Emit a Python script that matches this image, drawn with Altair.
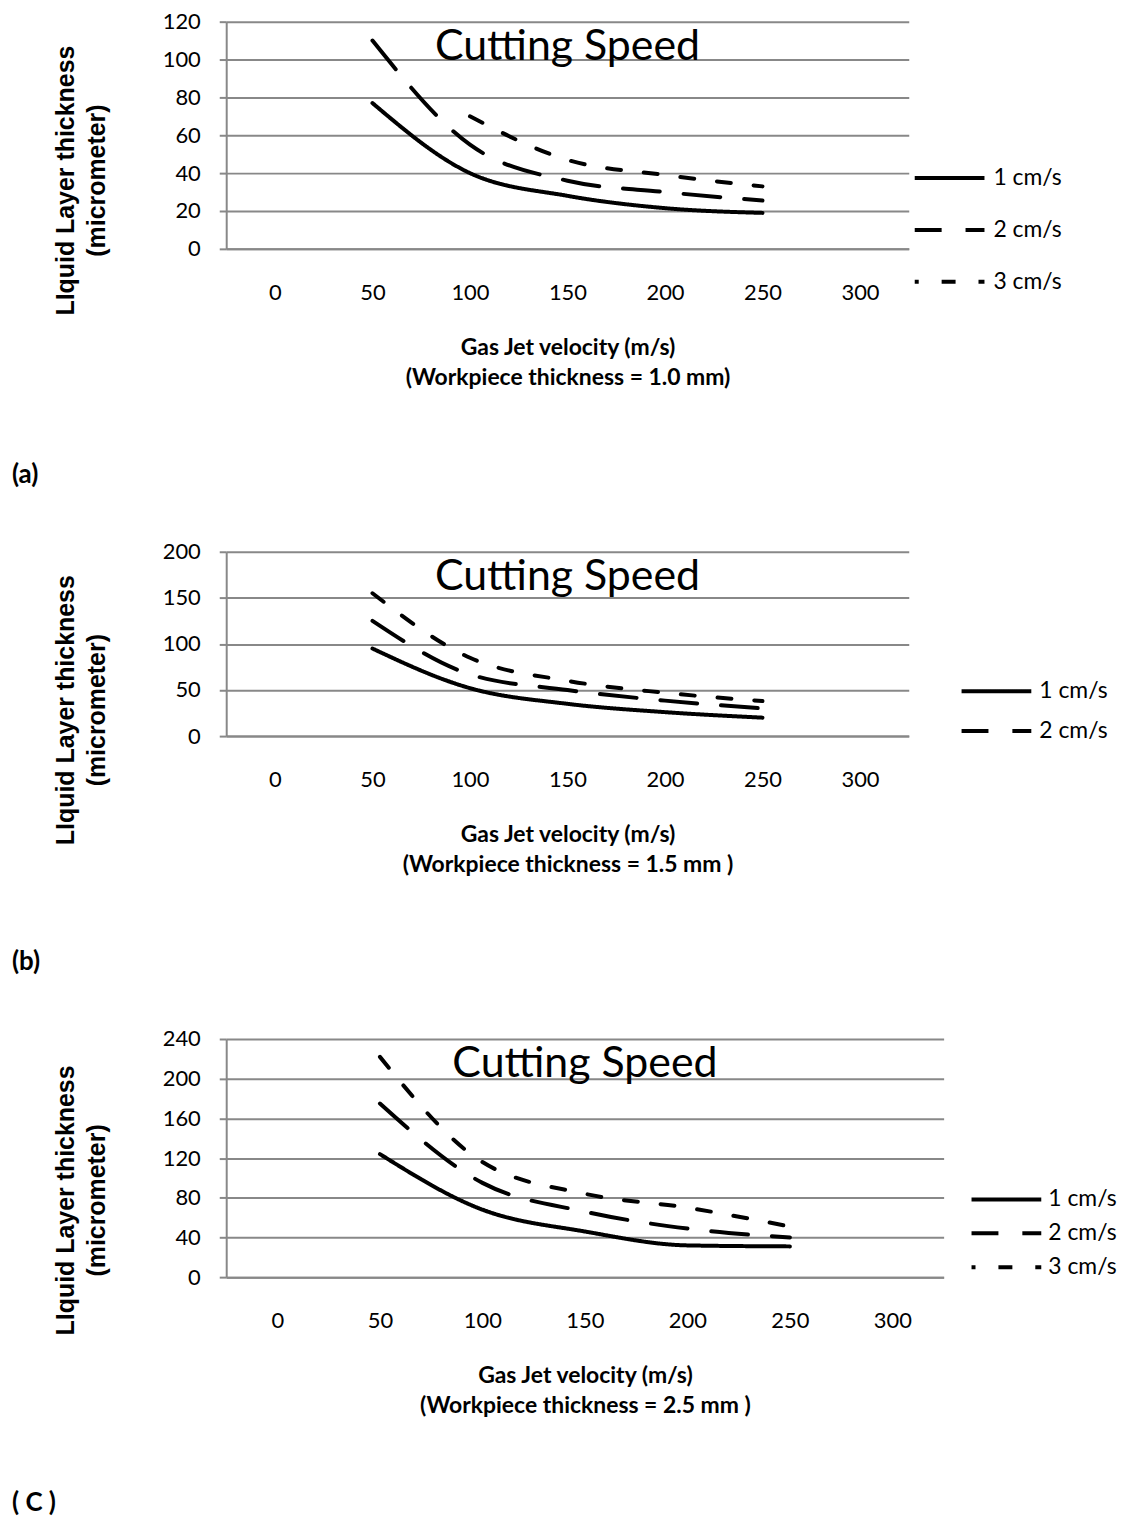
import altair as alt
import pandas as pd

# ---------------- data ----------------
velocity = [50, 100, 150, 200, 250]
speeds = ["1 cm/s", "2 cm/s", "3 cm/s"]
x_ticks = [0, 50, 100, 150, 200, 250, 300]

# (a) workpiece thickness 1.0 mm
a_1cm = [77, 40, 28, 21.5, 19]
a_2cm = [110, 55, 36, 30, 25.5]
a_3cm = [None, 70, 47, 39, 33]

# (b) workpiece thickness 1.5 mm
b_1cm = [95, 52, 35, 26, 20]
b_2cm = [125, 67, 50, 38.5, 30]
b_3cm = [155, 85, 60, 47, 38]

# (c) workpiece thickness 2.5 mm
c_1cm = [124, 68, 46, 32, 31]
c_2cm = [175, 95, 66, 49, 40]
c_3cm = [222, 116, 84, 70, 51]

GRAY = "#888888"
DASHES = [[1, 0], [37, 24], [14, 23]]


def make_df(s1, s2, s3):
    rows = []
    for name, vals in zip(speeds, [s1, s2, s3]):
        for v, t in zip(velocity, vals):
            if t is not None:
                rows.append({"velocity": v, "thickness": t, "speed": name})
    return pd.DataFrame(rows)


def panel(df, ymax, ystep, width, height, thickness_label, tag,
          legend_vals, legend_x, legend_y, row_h, label_off, ytitle_shift):
    lines = alt.Chart(df).mark_line(
        interpolate="monotone", strokeWidth=4, color="black",
        strokeCap="round", strokeJoin="round"
    ).encode(
        x=alt.X("velocity:Q",
                scale=alt.Scale(domain=[-25, 325], nice=False, zero=False),
                axis=alt.Axis(values=x_ticks, grid=False, ticks=False,
                              domainColor=GRAY, domainWidth=2,
                              labelFont="Lato", labelFontSize=22, labelColor="black",
                              labelPadding=34,
                              title=["Gas Jet velocity (m/s)", thickness_label],
                              titleFont="Lato", titleFontSize=23, titleFontWeight="bold",
                              titleColor="black", titlePadding=33, titleLineHeight=30)),
        y=alt.Y("thickness:Q",
                scale=alt.Scale(domain=[0, ymax], nice=False),
                axis=alt.Axis(values=list(range(0, ymax + 1, ystep)), grid=True,
                              gridColor=GRAY, gridWidth=2,
                              domainColor=GRAY, domainWidth=2,
                              tickColor=GRAY, tickWidth=2, tickSize=7,
                              labelFont="Lato", labelFontSize=22, labelColor="black",
                              labelPadding=19,
                              title=["LIquid Layer  thickness", "(micrometer)"],
                              titleFont="Liberation Sans", titleFontSize=25,
                              titleFontWeight="bold", titleColor="black",
                              titleAngle=270, titleX=-161,
                              titleY=height / 2 + ytitle_shift,
                              titleAlign="center", titleBaseline="middle",
                              titleLineHeight=31)),
        strokeDash=alt.StrokeDash(
            "speed:N",
            scale=alt.Scale(domain=speeds, range=DASHES),
            legend=alt.Legend(title=None, values=legend_vals, orient="none",
                              legendX=legend_x, legendY=legend_y,
                              symbolType="stroke", symbolSize=4900,
                              symbolStrokeWidth=4, symbolStrokeColor="black",
                              symbolDashOffset=10,
                              clipHeight=row_h, rowPadding=0,
                              labelFont="Lato", labelFontSize=23, labelColor="black",
                              labelOffset=label_off, labelLimit=300)),
    )
    heading = alt.Chart(pd.DataFrame({"t": ["Cutting Speed"]})).mark_text(
        align="center", baseline="alphabetic", font="Lato", fontSize=43,
        color="black"
    ).encode(x=alt.value(width / 2), y=alt.value(38), text="t:N")

    tag_text = alt.Chart(pd.DataFrame({"tag": [tag]})).mark_text(
        align="left", baseline="middle", font="Lato", fontSize=26,
        fontWeight="bold", color="black"
    ).encode(x=alt.value(-215), y=alt.value(height + 227), text="tag:N")

    return alt.layer(lines, heading, tag_text).properties(width=width, height=height)


pa = panel(make_df(a_1cm, a_2cm, a_3cm), 120, 20, 685, 228,
           "(Workpiece thickness  = 1.0 mm)", "(a)",
           speeds, 689, 131, 52, 7, 45)
pb = panel(make_df(b_1cm, b_2cm, b_3cm), 200, 50, 685, 185,
           "(Workpiece thickness  = 1.5 mm )", "(b)",
           speeds[:2], 736, 120, 40, 6, 66)
pc = panel(make_df(c_1cm, c_2cm, c_3cm), 240, 40, 720, 239,
           "(Workpiece thickness  = 2.5 mm )", "( C )",
           speeds, 746, 144, 34, 5, 42)

chart = alt.vconcat(pa, pb, pc, spacing=53).resolve_scale(
    strokeDash="independent"
).resolve_legend(
    strokeDash="independent"
).properties(
    padding={"left": 4, "top": 0, "right": 0, "bottom": 0}
).configure_view(stroke=None)

chart.save("out.html", embed_options={"renderer": "svg", "actions": False})
